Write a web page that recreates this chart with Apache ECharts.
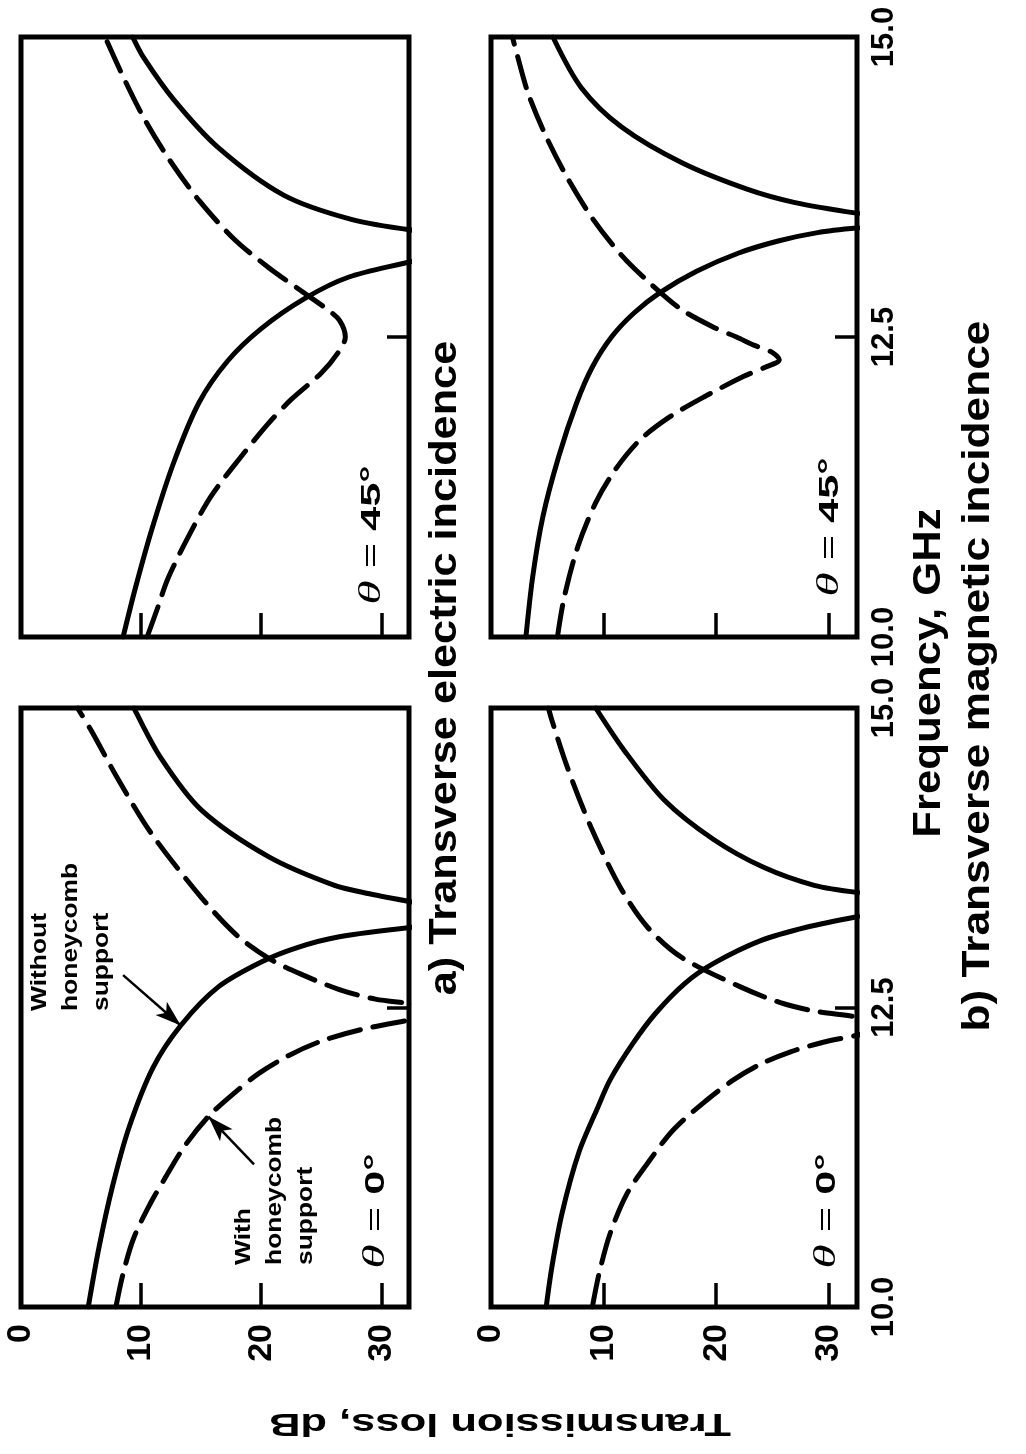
<!DOCTYPE html>
<html><head><meta charset="utf-8">
<script src="https://cdn.jsdelivr.net/npm/echarts@6.0.0/dist/echarts.min.js"></script>
<style>html,body{margin:0;padding:0;background:#fff}#c{width:1026px;height:1454px}</style>
</head><body><div id="c"></div>
<script>
// Values: pairs of [frequency GHz, transmission loss dB]
const lossTicks = [0, 10, 20, 30];
const freqTicks = [10.0, 12.5, 15.0];

// a) Transverse electric, theta = 45 deg
const te45SolidLow = [[10.0,8.5],[10.4,9.5],[10.9,10.9],[11.45,12.7],[11.95,14.8],[12.3,17.2],[12.57,20.0],[12.82,23.6],[13.0,27.3],[13.13,32.6]];
const te45SolidHigh = [[13.39,32.6],[13.48,27.5],[13.68,21.9],[14.08,16.4],[14.48,12.7],[14.83,10.2],[15.0,9.3]];
const te45Dash = [[10.0,10.5],[10.25,11.4],[10.48,12.2],[10.83,13.9],[11.17,15.8],[11.5,18.3],[11.78,20.6],[11.98,22.5],[12.2,25.0],[12.37,26.4],[12.5,27.0],[12.64,26.5],[12.73,25.5],[12.9,23.1],[13.08,20.6],[13.31,17.8],[13.64,14.8],[14.0,12.2],[14.33,10.2],[14.67,8.5],[15.0,7.0]];

// a) Transverse electric, theta = 0 deg
const te0SolidLow = [[10.0,5.6],[10.5,6.5],[11.0,7.6],[11.5,9.0],[12.0,11.0],[12.35,13.3],[12.67,16.4],[12.88,20.0],[13.0,23.0],[13.09,26.5],[13.17,32.6]];
const te0SolidHigh = [[13.38,32.6],[13.45,29.0],[13.52,26.1],[13.76,20.6],[14.15,15.0],[14.59,11.6],[15.0,9.4]];
const te0Dash = [[10.0,7.9],[10.28,8.5],[10.58,9.4],[10.87,10.8],[11.06,11.9],[11.34,13.6],[11.59,15.6],[11.79,17.8],[11.95,19.8],[12.1,22.3],[12.22,25.0],[12.32,28.5],[12.4,32.6],[12.47,36.0],[12.53,32.6],[12.57,29.5],[12.65,26.5],[12.77,23.5],[12.9,20.8],[13.1,18.0],[13.42,15.0],[13.96,10.8],[14.42,8.0],[14.82,5.8],[15.0,4.7]];

// b) Transverse magnetic, theta = 45 deg
const tm45SolidLow = [[10.0,3.1],[10.5,3.7],[11.0,4.6],[11.5,6.0],[11.95,7.6],[12.25,9.0],[12.5,10.7],[12.7,12.7],[12.87,15.0],[13.05,18.3],[13.2,22.0],[13.3,25.5],[13.37,29.0],[13.41,32.6]];
const tm45SolidHigh = [[13.53,32.6],[13.62,27.0],[13.73,22.8],[13.95,17.0],[14.25,11.6],[14.58,8.0],[15.0,5.5]];
const tm45Dash = [[10.0,5.9],[10.33,6.5],[10.75,7.7],[11.12,9.3],[11.39,11.0],[11.64,13.2],[11.83,15.8],[12.0,18.9],[12.17,22.4],[12.25,24.4],[12.31,25.6],[12.37,25.0],[12.43,23.4],[12.5,21.8],[12.58,19.8],[12.73,16.9],[12.95,14.1],[13.18,11.6],[13.49,9.0],[13.84,6.7],[14.19,4.8],[14.53,3.3],[14.86,2.3],[15.0,1.9]];

// b) Transverse magnetic, theta = 0 deg
const tm0SolidLow = [[10.0,4.9],[10.33,5.4],[10.78,6.3],[11.29,7.8],[11.67,9.5],[11.9,10.6],[12.2,12.6],[12.45,14.6],[12.7,17.2],[12.87,19.8],[13.06,24.0],[13.17,28.0],[13.26,32.6]];
const tm0SolidHigh = [[13.46,32.6],[13.52,28.7],[13.67,24.2],[13.9,19.8],[14.23,15.4],[14.65,11.8],[15.0,9.3]];
const tm0Dash = [[10.0,9.0],[10.28,9.6],[10.62,10.6],[10.95,12.1],[11.2,13.9],[11.48,16.2],[11.73,19.2],[11.9,21.6],[12.03,24.0],[12.13,26.6],[12.21,29.5],[12.27,32.6],[12.35,36.0],[12.42,32.6],[12.47,28.7],[12.54,25.7],[12.67,22.2],[12.92,16.9],[13.17,13.9],[13.5,11.5],[14.0,8.9],[14.5,6.8],[14.9,5.4],[15.0,5.1]];

// Annotation arrows [freq, loss] tail -> head
const arrowWithout = [[12.77,8.5],[12.35,13.3]];
const arrowWith = [[11.19,19.4],[11.59,15.6]];

const panels = [
  {grid:{left:21, top:37, width:388, height:600}, max:32.3, lossLabels:false, freqLabels:false, low:te45SolidLow, high:te45SolidHigh, dash:te45Dash},
  {grid:{left:21, top:708, width:388, height:599}, max:32.3, lossLabels:true, freqLabels:false, low:te0SolidLow, high:te0SolidHigh, dash:te0Dash, arrows:true},
  {grid:{left:491, top:37, width:366, height:600}, max:32.5, lossLabels:false, freqLabels:true, low:tm45SolidLow, high:tm45SolidHigh, dash:tm45Dash},
  {grid:{left:491, top:708, width:366, height:599}, max:32.5, lossLabels:true, freqLabels:true, low:tm0SolidLow, high:tm0SolidHigh, dash:tm0Dash}
];

const FONT = '"Liberation Sans", Arial, sans-serif';
const toXY = arr => arr.map(p => [p[1], p[0]]);

const grids = [], xAxes = [], yAxes = [], series = [];
panels.forEach((p, i) => {
  grids.push(Object.assign({show:true, borderColor:'#000', borderWidth:5, backgroundColor:'transparent', containLabel:false}, p.grid));
  xAxes.push({
    type:'value', gridIndex:i, position:'bottom', min:lossTicks[0], max:p.max, interval:lossTicks[1]-lossTicks[0],
    axisLine:{show:false, onZero:false}, splitLine:{show:false},
    axisTick:{show:true, inside:true, length:24, lineStyle:{color:'#000', width:3.5}},
    axisLabel:{show:p.lossLabels, rotate:90, margin:17, showMaxLabel:false,
      formatter: v => lossTicks.indexOf(v) >= 0 ? String(v) : '',
      color:'#000', fontFamily:FONT, fontWeight:'bold', fontSize:34}
  });
  yAxes.push({
    type:'value', gridIndex:i, position:'right', min:freqTicks[0], max:freqTicks[2], interval:freqTicks[1]-freqTicks[0],
    axisLine:{show:false, onZero:false}, splitLine:{show:false},
    axisTick:{show:true, inside:true, length:22, lineStyle:{color:'#000', width:3.5}},
    axisLabel:{show:p.freqLabels, rotate:90, margin:12, showMinLabel:true, showMaxLabel:true,
      formatter: v => v.toFixed(1),
      color:'#000', fontFamily:FONT, fontWeight:'bold', fontSize:31}
  });
  const base = {type:'line', xAxisIndex:i, yAxisIndex:i, showSymbol:false, symbol:'none', smooth:0.3, clip:true, silent:true, animation:false};
  series.push(Object.assign({}, base, {data:toXY(p.low), lineStyle:{color:'#000', width:5, type:'solid', cap:'round'}}));
  series.push(Object.assign({}, base, {data:toXY(p.high), lineStyle:{color:'#000', width:5, type:'solid', cap:'round'}}));
  const ds = Object.assign({}, base, {data:toXY(p.dash), lineStyle:{color:'#000', width:5, type:[32,13], cap:'round'}});
  if (p.arrows) {
    ds.markLine = {
      silent:true, animation:false, symbol:['none','arrow'], symbolSize:[13,26],
      lineStyle:{type:'solid', width:2.5, color:'#000'}, label:{show:false},
      data:[
        [{coord:[arrowWithout[0][1], arrowWithout[0][0]]}, {coord:[arrowWithout[1][1], arrowWithout[1][0]]}],
        [{coord:[arrowWith[0][1], arrowWith[0][0]]}, {coord:[arrowWith[1][1], arrowWith[1][0]]}]
      ]
    };
  }
  series.push(ds);
});

function txt(text, x, y, rot, sx, style) {
  return {type:'text', x:x, y:y, rotation:rot, scaleX:sx, scaleY:1, z:100, silent:true,
    style:Object.assign({text:text, fill:'#000', align:'center', verticalAlign:'middle', textAlign:'center', textVerticalAlign:'middle'}, style)};
}
const R = Math.PI/2;
const thetaRich = {
  th:{fontFamily:'"Liberation Serif", serif', fontStyle:'italic', fontSize:32, fill:'#000'},
  eq:{fontFamily:FONT, fontSize:28, fill:'#000'},
  n:{fontFamily:FONT, fontWeight:'bold', fontSize:28, fill:'#000'}
};
const graphics = [
  txt('a) Transverse electric incidence', 445, 668, R, 1.11, {font:'bold 39px ' + FONT}),
  txt('Frequency, GHz', 929, 673, R, 1.12, {font:'bold 39px ' + FONT}),
  txt('b) Transverse magnetic incidence', 978, 676, R, 1.135, {font:'bold 39px ' + FONT}),
  txt('Transmission loss, dB', 500, 1423, Math.PI, 1.36, {font:'bold 32px ' + FONT}),
  txt('{th|θ}{eq| = }{n|45°}', 372, 535, R, 1.55, {rich:thetaRich}),
  txt('{th|θ}{eq| = }{n|0°}', 376, 1211, R, 1.55, {rich:thetaRich}),
  txt('{th|θ}{eq| = }{n|45°}', 830, 527, R, 1.55, {rich:thetaRich}),
  txt('{th|θ}{eq| = }{n|0°}', 827, 1211, R, 1.55, {rich:thetaRich}),
  txt('Without\nhoneycomb\nsupport', 24, 1011, R, 1.2, {font:'bold 22px ' + FONT, lineHeight:31, align:'left', textAlign:'left', verticalAlign:'top', textVerticalAlign:'top'}),
  txt('With\nhoneycomb\nsupport', 228, 1265, R, 1.2, {font:'bold 22px ' + FONT, lineHeight:31, align:'left', textAlign:'left', verticalAlign:'top', textVerticalAlign:'top'})
];

const chart = echarts.init(document.getElementById('c'), null, {renderer:'canvas'});
chart.setOption({
  animation:false,
  backgroundColor:'#fff',
  grid:grids, xAxis:xAxes, yAxis:yAxes, series:series,
  graphic:graphics
});
</script></body></html>
